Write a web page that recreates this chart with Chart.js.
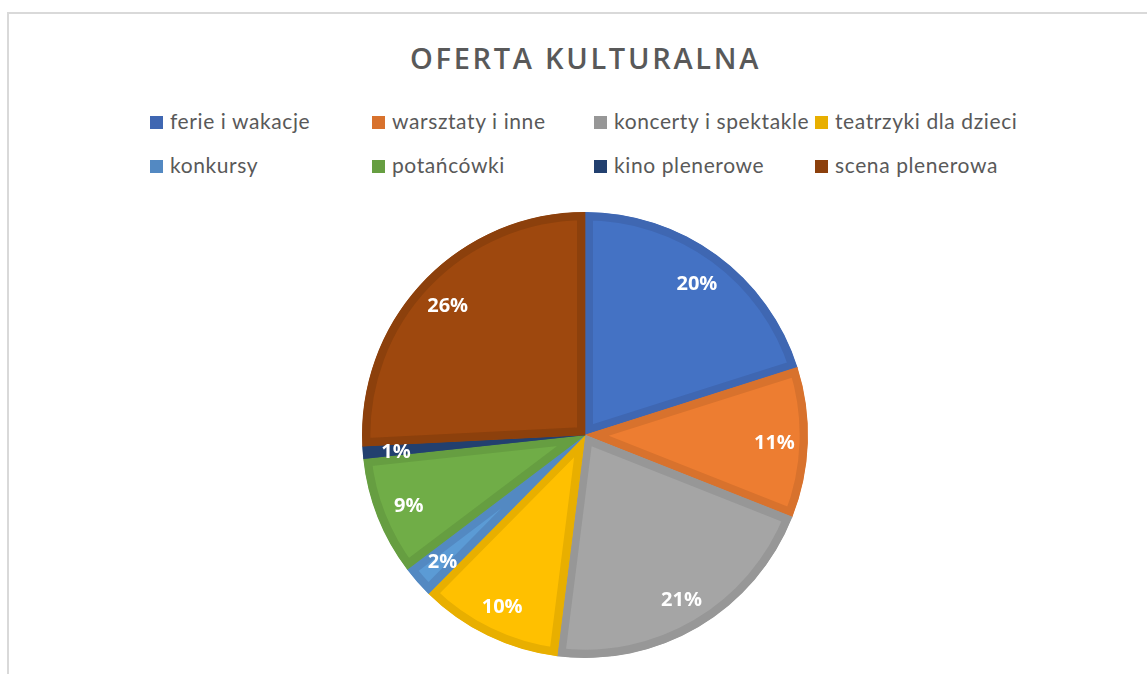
<!DOCTYPE html>
<html>
<head>
<meta charset="utf-8">
<script src="https://cdn.jsdelivr.net/npm/chart.js@4.4.1/dist/chart.umd.min.js"></script>
<style>
  html, body { margin:0; padding:0; background:#fff; }
  #wrap { position:relative; width:1147px; height:674px; overflow:hidden; }
  #frame { position:absolute; left:7px; top:12px; width:1200px; height:720px; border-left:2px solid #d9d9d9; border-top:2px solid #d9d9d9; }
  #title { position:absolute; left:0; width:1171px; top:43px; line-height:1; text-align:center; font-family:"Open Sans", sans-serif; font-weight:600; font-size:29px; color:#595959; letter-spacing:2.7px; }
  .leg { position:absolute; font-family:Lato, sans-serif; font-size:21px; color:#595959; white-space:nowrap; letter-spacing:0.6px; line-height:24px; }
  .leg span.box { display:inline-block; width:13px; height:13px; margin-right:7px; vertical-align:0px; }
  canvas { position:absolute; left:0; top:0; }
</style>
</head>
<body>
<div id="wrap">
  <div id="frame"></div>
  <div id="title">OFERTA KULTURALNA</div>
  <div id="legend"></div>
  <canvas id="c" width="1147" height="674"></canvas>
</div>
<script>
const categories = ["ferie i wakacje", "warsztaty i inne", "koncerty i spektakle", "teatrzyki dla dzieci", "konkursy", "potańcówki", "kino plenerowe", "scena plenerowa"];
const values = [20.1, 10.9, 21.0, 10.4, 2.3, 8.6, 0.9, 25.8];
const fillColors = ["#4472C4", "#ED7D31", "#A5A5A5", "#FFC000", "#5B9BD5", "#70AD47", "#264478", "#9E480E"];
const borderColors = ["#3F67B2", "#D8722D", "#979797", "#E8AF00", "#5389C2", "#669E41", "#22406F", "#8C400C"];
const legendColumns = [150, 372, 594, 815];
const legendRows = [109, 153];

// HTML legend
const legEl = document.getElementById('legend');
categories.forEach((name, i) => {
  const d = document.createElement('div');
  d.className = 'leg';
  d.style.left = legendColumns[i % 4] + 'px';
  d.style.top = legendRows[Math.floor(i / 4)] + 'px';
  const b = document.createElement('span');
  b.className = 'box';
  b.style.background = borderColors[i];
  d.appendChild(b);
  d.appendChild(document.createTextNode(name));
  legEl.appendChild(d);
});

const pctLabels = {
  id: 'pctLabels',
  afterDatasetsDraw(chart) {
    const ctx = chart.ctx;
    const meta = chart.getDatasetMeta(0);
    const data = chart.data.datasets[0].data;
    const total = data.reduce((a, b) => a + b, 0);
    ctx.save();
    ctx.font = 'bold 20px "Open Sans", sans-serif';
    ctx.fillStyle = '#ffffff';
    ctx.textAlign = 'center';
    ctx.textBaseline = 'middle';
    meta.data.forEach((arc, i) => {
      const p = arc.getProps(['x', 'y', 'startAngle', 'endAngle', 'outerRadius'], true);
      const mid = (p.startAngle + p.endAngle) / 2;
      const r = p.outerRadius * 0.85;
      const x = p.x + Math.cos(mid) * r;
      const y = p.y + Math.sin(mid) * r + 2;
      ctx.fillText(Math.round(data[i] / total * 100) + '%', x, y);
    });
    ctx.restore();
  }
};

new Chart(document.getElementById('c'), {
  type: 'pie',
  data: {
    labels: categories,
    datasets: [{
      data: values,
      backgroundColor: fillColors,
      borderColor: borderColors,
      borderWidth: 8,
      borderAlign: 'inner',
      hoverOffset: 0
    }]
  },
  options: {
    responsive: false,
    animation: false,
    layout: { padding: { top: 212, bottom: 16, left: 362, right: 339 } },
    plugins: {
      legend: { display: false },
      title: { display: false },
      tooltip: { enabled: false }
    }
  },
  plugins: [pctLabels]
});
</script>
</body>
</html>
